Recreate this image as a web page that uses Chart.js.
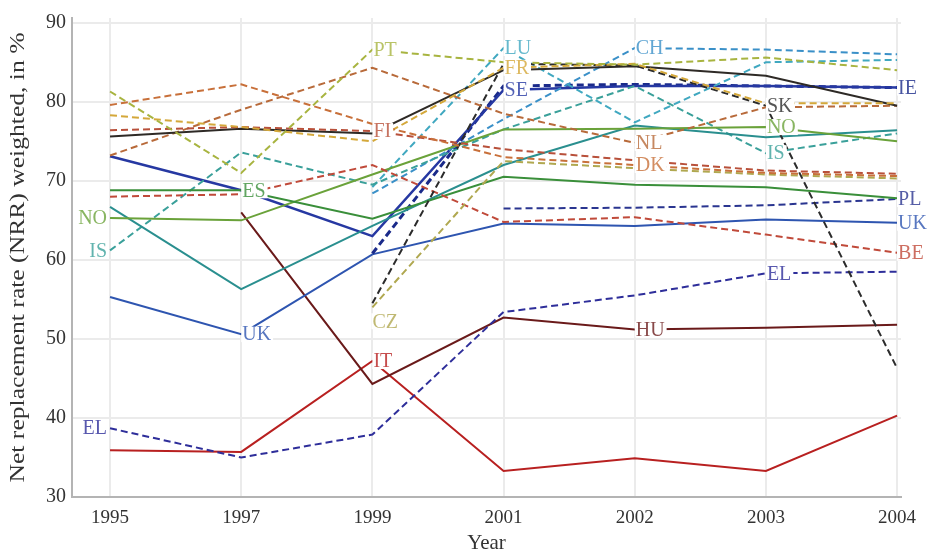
<!DOCTYPE html>
<html>
<head>
<meta charset="utf-8">
<style>
  body { margin: 0; background: #fff; }
</style>
</head>
<body>
<canvas id="myChart" width="933" height="556"></canvas>

<script src="https://cdn.jsdelivr.net/npm/chart.js"></script>

<script>
    // categories and ticks
    const years = ['1995', '1997', '1999', '2001', '2002', '2003', '2004'];
    const yTicks = [30, 40, 50, 60, 70, 80, 90];
    const yTitle = 'Net replacement rate (NRR) weighted, in %';

    // net replacement rates, one array per line (null = no value)
    const PT = [81.3, 71.0, 86.6, 85.0, 84.7, 85.6, 84.0];
    const DK = [79.6, 82.2, 77.2, 73.0, 72.0, 71.0, 70.6];
    const FR = [78.3, 76.8, 75.0, 84.3, 84.8, 79.8, 79.8];
    const FI = [76.4, 76.8, 76.3, 74.0, 72.6, 71.3, 70.9];
    const AT = [75.6, 76.6, 76.0, 84.0, 84.5, 83.3, 79.5];
    const NL = [73.2, 79.0, 84.3, 78.5, 74.8, 79.3, 79.5];
    const SK = [null, null, 54.5, 84.8, 84.6, 79.5, 46.3];
    const CZ = [null, null, 54.0, 72.5, 71.6, 70.8, 70.3];
    const BE = [68.0, 68.3, 72.0, 64.8, 65.4, 63.2, 60.9];
    const ES = [68.8, 68.8, 65.2, 70.5, 69.5, 69.2, 67.8];
    const NO = [65.3, 65.0, 70.8, 76.5, 76.6, 76.8, 75.0];
    const DE = [66.7, 56.3, 64.3, 72.0, 77.0, 75.5, 76.4];
    const IS = [61.2, 73.6, 69.5, 76.5, 82.0, 73.5, 76.0];
    const LU = [null, null, 69.2, 86.8, 77.4, 85.0, 85.3];
    const CH = [null, null, 68.4, 77.8, 86.8, 86.6, 86.0];
    const SE = [73.1, 68.8, 63.0, 81.5, 82.0, 82.0, 81.8];
    const IE = [null, null, 60.8, 82.0, 82.2, 82.0, 81.8];
    const PL = [null, null, null, 66.5, 66.6, 66.9, 67.7];
    const UK = [55.3, 50.6, 60.7, 64.6, 64.3, 65.1, 64.7];
    const EL = [38.7, 35.0, 37.9, 53.4, 55.5, 58.3, 58.5];
    const HU = [null, 66.0, 44.3, 52.7, 51.2, 51.4, 51.8];
    const IT = [35.9, 35.7, 47.2, 33.3, 34.9, 33.3, 40.3];

    const series = [
        { name: 'PT', data: PT, color: '#a8b440', dash: true },
        { name: 'DK', data: DK, color: '#c8703a', dash: true },
        { name: 'FR', data: FR, color: '#d4a83a', dash: true },
        { name: 'FI', data: FI, color: '#b8503a', dash: true },
        { name: 'AT', data: AT, color: '#2e2a26', dash: false },
        { name: 'NL', data: NL, color: '#b86a3a', dash: true },
        { name: 'SK', data: SK, color: '#2b2b2b', dash: true },
        { name: 'CZ', data: CZ, color: '#b0a850', dash: true },
        { name: 'BE', data: BE, color: '#c04a3a', dash: true },
        { name: 'ES', data: ES, color: '#3a8f3a', dash: false },
        { name: 'NO', data: NO, color: '#6aa23a', dash: false },
        { name: 'DE', data: DE, color: '#2a8f8f', dash: false },
        { name: 'IS', data: IS, color: '#3aa09a', dash: true },
        { name: 'LU', data: LU, color: '#40a8c0', dash: true },
        { name: 'CH', data: CH, color: '#3a90c8', dash: true },
        { name: 'SE', data: SE, color: '#2638a2', dash: false, width: 2.5 },
        { name: 'IE', data: IE, color: '#1a2a8a', dash: true, width: 3 },
        { name: 'PL', data: PL, color: '#2a3590', dash: true },
        { name: 'UK', data: UK, color: '#2e55b0', dash: false },
        { name: 'EL', data: EL, color: '#2e2e9a', dash: true },
        { name: 'HU', data: HU, color: '#6a1a1a', dash: false },
        { name: 'IT', data: IT, color: '#b82020', dash: false }
    ];

    // direct labels: which line, which year index, which side
    const pointLabels = [
        { text: 'NO', series: 'NO', i: 0, side: 'left' },
        { text: 'IS', series: 'IS', i: 0, side: 'left' },
        { text: 'EL', series: 'EL', i: 0, side: 'left' },
        { text: 'ES', series: 'ES', i: 1, side: 'right' },
        { text: 'UK', series: 'UK', i: 1, side: 'right' },
        { text: 'PT', series: 'PT', i: 2, side: 'right' },
        { text: 'FI', series: 'FI', i: 2, side: 'right' },
        { text: 'IT', series: 'IT', i: 2, side: 'right' },
        { text: 'CZ', series: 'CZ', i: 2, side: 'below' },
        { text: 'LU', series: 'LU', i: 3, side: 'right' },
        { text: 'FR', series: 'FR', i: 3, side: 'right' },
        { text: 'SE', series: 'SE', i: 3, side: 'right' },
        { text: 'CH', series: 'CH', i: 4, side: 'right' },
        { text: 'NL', series: 'NL', i: 4, side: 'right' },
        { text: 'DK', series: 'DK', i: 4, side: 'right' },
        { text: 'HU', series: 'HU', i: 4, side: 'right' },
        { text: 'SK', series: 'SK', i: 5, side: 'right' },
        { text: 'NO', series: 'NO', i: 5, side: 'right' },
        { text: 'IS', series: 'IS', i: 5, side: 'right' },
        { text: 'EL', series: 'EL', i: 5, side: 'right' },
        { text: 'IE', series: 'IE', i: 6, side: 'right' },
        { text: 'PL', series: 'PL', i: 6, side: 'right' },
        { text: 'UK', series: 'UK', i: 6, side: 'right' },
        { text: 'BE', series: 'BE', i: 6, side: 'right' }
    ];

    const serif = '"Liberation Serif", "DejaVu Serif", serif';

    const countryLabels = {
        id: 'countryLabels',
        afterDatasetsDraw: (chart) => {
            const { ctx } = chart;
            const xs = chart.scales.x, ys = chart.scales.y;
            ctx.save();
            ctx.font = '20px ' + serif;
            ctx.textBaseline = 'middle';
            ctx.textAlign = 'left';
            pointLabels.forEach(l => {
                const s = series.find(d => d.name === l.series);
                const px = xs.getPixelForValue(l.i);
                let py = ys.getPixelForValue(s.data[l.i]);
                const w = ctx.measureText(l.text).width;
                let left;
                if (l.side === 'left') left = px - w - 3;
                else if (l.side === 'below') { left = px; py += 14; }
                else left = px + 1;
                ctx.fillStyle = '#fff';
                ctx.fillRect(left - 1, py - 8, w + 3, 16);
                ctx.globalAlpha = 0.8;
                ctx.fillStyle = s.color;
                ctx.fillText(l.text, left, py + 1);
                ctx.globalAlpha = 1;
            });
            ctx.restore();
        }
    };

    // long rotated axis title, stretched along its length like the original
    const yAxisTitle = {
        id: 'yAxisTitle',
        afterDraw: (chart) => {
            const { ctx, chartArea } = chart;
            ctx.save();
            ctx.translate(19, (chartArea.top + chartArea.bottom) / 2);
            ctx.rotate(-Math.PI / 2);
            ctx.font = '20px ' + serif;
            ctx.fillStyle = '#333';
            ctx.textAlign = 'center';
            ctx.textBaseline = 'middle';
            const w = ctx.measureText(yTitle).width;
            ctx.scale(450 / w, 1);
            ctx.fillText(yTitle, 0, 0);
            ctx.restore();
        }
    };

    const ctx = document.getElementById('myChart');
    const myChart = new Chart(ctx, {
        type: 'line',
        data: {
            datasets: series.map(s => ({
                label: s.name,
                data: s.data.map((v, i) => ({ x: i, y: v })),
                borderColor: s.color,
                borderWidth: s.width || 2,
                borderDash: s.dash ? [7, 4] : [],
                pointRadius: 0,
                fill: false,
                tension: 0,
                spanGaps: false
            }))
        },
        options: {
            responsive: false,
            animation: false,
            events: [],
            layout: { padding: { top: 0, right: 32, left: 0, bottom: 0 } },
            plugins: { legend: { display: false }, tooltip: { enabled: false } },
            scales: {
                x: {
                    type: 'linear',
                    min: -0.29,
                    max: 6.03,
                    afterBuildTicks: (scale) => { scale.ticks = years.map((y, i) => ({ value: i })); },
                    afterFit: (scale) => { scale.height = 59; },
                    ticks: {
                        callback: (v) => years[v],
                        color: '#333',
                        font: { family: serif, size: 19 },
                        padding: 10,
                        maxRotation: 0
                    },
                    grid: { color: '#ebebeb', lineWidth: 2, drawTicks: false },
                    border: { color: '#b4b4b4', width: 2 },
                    title: {
                        display: true,
                        text: 'Year',
                        color: '#333',
                        font: { family: serif, size: 21 },
                        padding: { top: 0, bottom: 0 }
                    }
                },
                y: {
                    min: 30,
                    max: 90.6,
                    afterBuildTicks: (scale) => { scale.ticks = yTicks.map(v => ({ value: v })); },
                    afterFit: (scale) => { scale.width = 72; },
                    ticks: {
                        color: '#333',
                        font: { family: serif, size: 20 },
                        padding: 6
                    },
                    grid: { color: '#ebebeb', lineWidth: 2, drawTicks: false },
                    border: { color: '#b4b4b4', width: 2 },
                    title: { display: false }
                }
            }
        },
        plugins: [countryLabels, yAxisTitle]
    });
</script>
</body>
</html>
